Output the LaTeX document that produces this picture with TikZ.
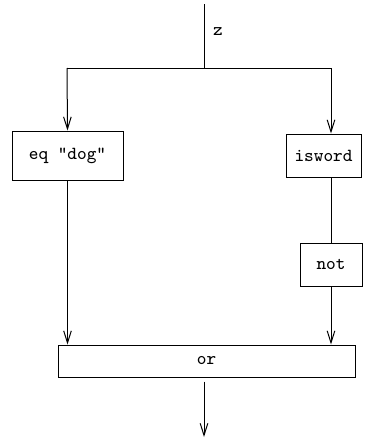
\documentclass[tikz,border=0pt]{standalone}
\usetikzlibrary{arrows.meta}
\begin{document}
\begin{tikzpicture}[x=0.5pt, y=-0.5pt, line width=0.5pt, font=\ttfamily\fontsize{9.2}{11}\selectfont, >={Straight Barb[length=6pt,width=3.8pt]}]
	\tikzset{op/.style={draw, inner sep=0pt}}
	\useasboundingbox (0,0) rectangle (370,439);
	% input and the fork
	\coordinate (in) at (204,4);
	\coordinate (fork) at (204,68);
	\coordinate (forkl) at (67,68);
	\coordinate (forkr) at (331,68);
	\coordinate (out) at (204,437);
	\node (zlab) at (218,32) {z};
	% the operators
	\node[op, minimum width=55.5pt, minimum height=24.5pt] (eq) at (67.5,155.5) {eq "dog"};
	\node[op, minimum width=37.5pt, minimum height=21.5pt] (isword) at (323.5,155.5) {isword};
	\node[op, minimum width=31pt, minimum height=21.5pt] (not) at (331,264.5) {not};
	\node[op, minimum width=148.5pt, minimum height=16pt] (or) at (206.5,361) {or};
	% wires
	\draw (in) -- (fork);
	\draw (forkl) -- (forkr);
	\draw[->] (forkl) -- (eq.north);
	\draw[->] (forkr) -- (forkr |- isword.north);
	\draw (not.north |- isword.south) -- (not.north);
	\draw[->] (not.south) -- (not.south |- or.north);
	\draw[->] (eq.south) -- (eq.south |- or.north);
	\draw[->, shorten <=2pt] (or.south -| out) -- (out);
\end{tikzpicture}
\end{document}
